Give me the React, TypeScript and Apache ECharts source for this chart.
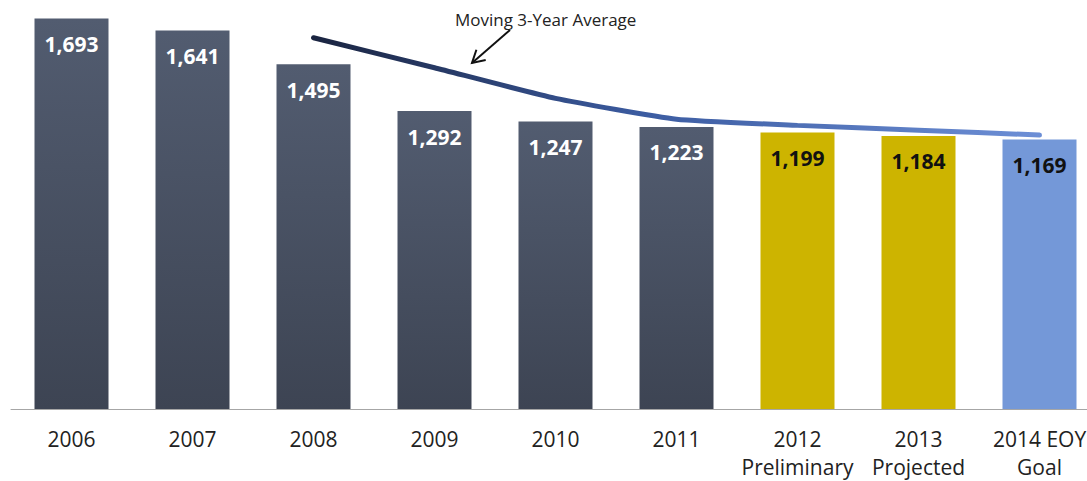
import React, { useEffect, useRef } from "react";
import * as echarts from "echarts";

const categories = [
  "2006",
  "2007",
  "2008",
  "2009",
  "2010",
  "2011",
  "2012\nPreliminary",
  "2013\nProjected",
  "2014 EOY\nGoal",
];
const totals = [1693, 1641, 1495, 1292, 1247, 1223, 1199, 1184, 1169];
const kinds = ["actual", "actual", "actual", "actual", "actual", "actual", "preliminary", "projected", "goal"];
const movingAverage = [null, null, 1610, 1480, 1347, 1257, 1230, 1209, 1188];
const annotationText = "Moving 3-Year Average";

const FONT = "'Open Sans', 'Liberation Sans', sans-serif";

function barColor(kind: string) {
  if (kind === "actual") {
    return new echarts.graphic.LinearGradient(0, 0, 0, 1, [
      { offset: 0, color: "#525c70" },
      { offset: 1, color: "#3d4453" },
    ]);
  }
  if (kind === "goal") return "#7498d8";
  return "#cdb400";
}

export default function App() {
  const ref = useRef<HTMLDivElement>(null);
  useEffect(() => {
    if (!ref.current) return;
    const chart = echarts.init(ref.current, null, { renderer: "svg" });
    const barData = totals.map((v, i) => ({
      value: v,
      itemStyle: { color: barColor(kinds[i]) },
      label: { color: kinds[i] === "actual" ? "#ffffff" : "#111111" },
    }));
    chart.setOption({
      animation: false,
      grid: { left: 11, right: 0, top: 17, bottom: 71 },
      xAxis: {
        type: "category",
        data: categories,
        axisLine: { show: true, lineStyle: { color: "#a6a6a6", width: 1 } },
        axisTick: { show: false },
        axisLabel: {
          interval: 0,
          margin: 16,
          fontFamily: FONT,
          fontSize: 21,
          lineHeight: 28,
          color: "#222222",
        },
      },
      yAxis: {
        type: "value",
        min: 0,
        max: 1700,
        show: false,
        splitLine: { show: false },
      },
      series: [
        {
          type: "bar",
          data: barData,
          barWidth: 74,
          label: {
            show: true,
            position: "insideTop",
            distance: 15,
            fontFamily: FONT,
            fontSize: 21,
            fontWeight: "bold",
            formatter: (p: any) => Number(p.value).toLocaleString("en-US"),
          },
          z: 2,
        },
        {
          type: "line",
          data: movingAverage,
          symbol: "none",
          smooth: 0.15,
          lineStyle: {
            width: 5,
            cap: "round",
            color: new echarts.graphic.LinearGradient(0, 0, 1, 0, [
              { offset: 0, color: "#1a2440" },
              { offset: 0.45, color: "#3b5ba0" },
              { offset: 1, color: "#6d8fd6" },
            ]),
          },
          z: 3,
        },
      ],
      graphic: [
        {
          type: "text",
          left: 455,
          top: 11,
          style: {
            text: annotationText,
            fontFamily: FONT,
            fontSize: 17,
            fill: "#222222",
          },
        },
        {
          type: "line",
          shape: { x1: 510, y1: 30, x2: 472, y2: 63 },
          style: { stroke: "#111111", lineWidth: 2 },
        },
        {
          type: "polyline",
          shape: { points: [[476.4, 49.7], [472, 63], [485.7, 60.1]] },
          style: { stroke: "#111111", lineWidth: 2, fill: null },
        },
      ],
    });
    return () => chart.dispose();
  }, []);
  return (
    <div style={{ position: "fixed", left: 0, top: 0, width: 1087, height: 481, overflow: "hidden", background: "#ffffff" }}>
      <div ref={ref} style={{ width: 1100, height: 481 }} />
    </div>
  );
}
